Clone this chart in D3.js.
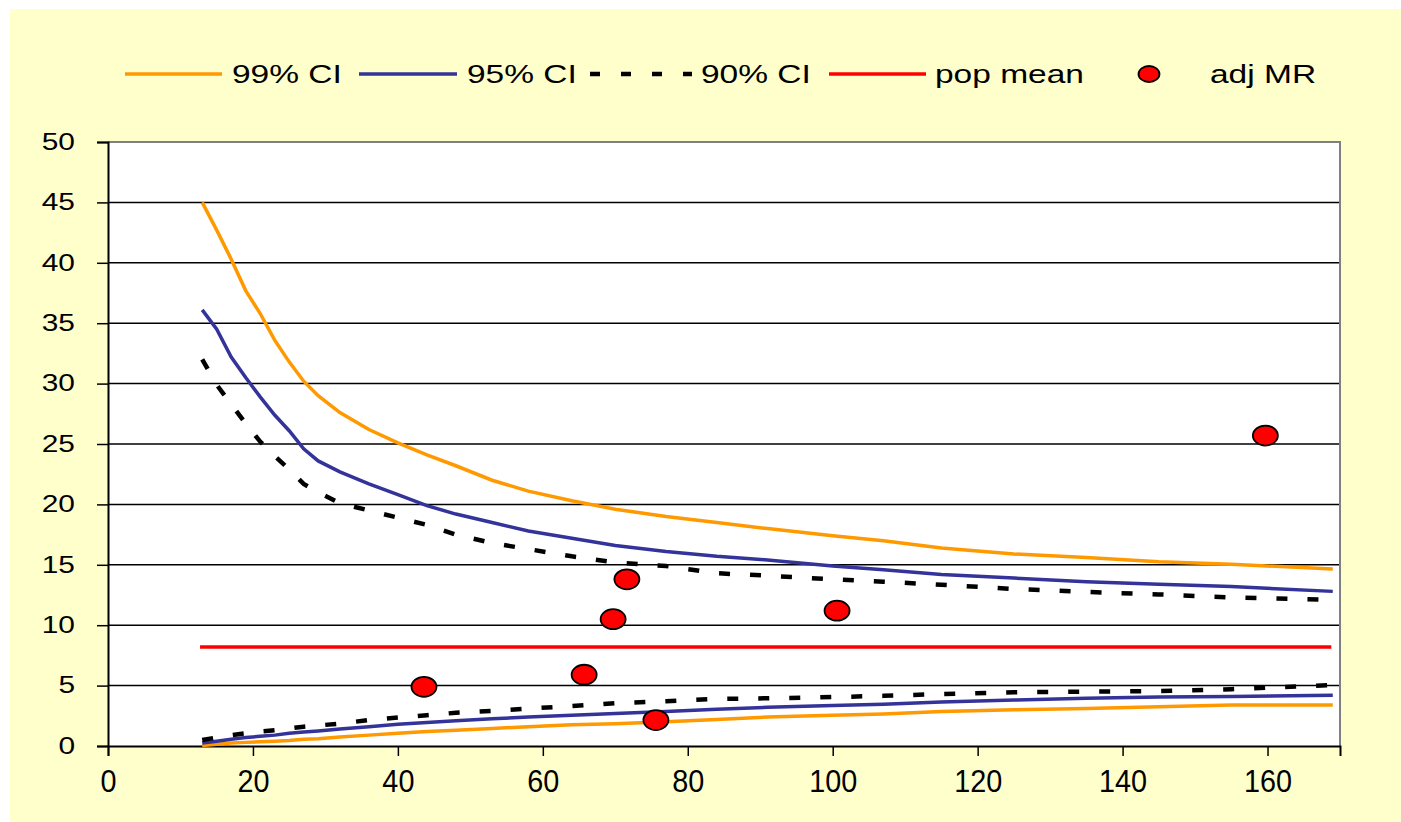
<!DOCTYPE html>
<html>
<head>
<meta charset="utf-8">
<script src="https://cdn.jsdelivr.net/npm/d3@7"></script>
<style>
  body { margin: 0; background: #ffffff; }
  text { font-family: "Liberation Sans", Arial, sans-serif; fill: #000; }
</style>
</head>
<body>
<svg id="chart" width="1401" height="822"></svg>
<script>
// sample sizes along the x axis
const sizes = [13, 15, 17, 19, 21, 23, 25, 27, 29, 32, 36, 40, 44, 48, 53, 58, 64, 70, 77, 84, 91, 100, 107, 115, 125, 135, 145, 155, 169];

// control limits (upper / lower) for each confidence level
const upper99 = [45.0, 42.7, 40.3, 37.7, 35.8, 33.6, 31.8, 30.2, 29.0, 27.6, 26.2, 25.1, 24.1, 23.2, 22.0, 21.1, 20.3, 19.6, 19.0, 18.5, 18.0, 17.4, 17.0, 16.4, 15.9, 15.6, 15.25, 15.05, 14.65];
const upper95 = [36.1, 34.5, 32.2, 30.5, 28.9, 27.4, 26.1, 24.6, 23.6, 22.7, 21.7, 20.8, 19.9, 19.2, 18.5, 17.8, 17.2, 16.6, 16.1, 15.7, 15.4, 14.9, 14.6, 14.2, 13.9, 13.6, 13.4, 13.2, 12.8];
const upper90 = [32.0, 29.9, 28.3, 26.7, 25.2, 24.0, 22.9, 21.7, 21.0, 20.1, 19.5, 18.9, 18.3, 17.5, 16.8, 16.3, 15.7, 15.2, 14.9, 14.3, 14.1, 13.8, 13.6, 13.35, 13.0, 12.75, 12.55, 12.3, 12.1];
const lower99 = [0.05, 0.15, 0.25, 0.3, 0.35, 0.4, 0.45, 0.55, 0.6, 0.75, 0.9, 1.05, 1.2, 1.3, 1.45, 1.6, 1.75, 1.85, 2.0, 2.2, 2.4, 2.55, 2.65, 2.85, 3.0, 3.1, 3.25, 3.4, 3.4];
const lower95 = [0.25, 0.4, 0.55, 0.7, 0.8, 0.9, 1.05, 1.15, 1.25, 1.4, 1.6, 1.8, 1.95, 2.1, 2.25, 2.4, 2.55, 2.7, 2.85, 3.05, 3.2, 3.35, 3.45, 3.65, 3.8, 3.95, 4.05, 4.1, 4.2];
const lower90 = [0.5, 0.7, 0.9, 1.05, 1.2, 1.3, 1.45, 1.6, 1.7, 1.85, 2.15, 2.35, 2.55, 2.75, 2.9, 3.1, 3.3, 3.55, 3.7, 3.9, 3.95, 4.05, 4.15, 4.3, 4.45, 4.5, 4.55, 4.7, 5.05];

// population mean and its x extent
const popMean = 8.2;
const popMeanRange = [12.7, 168.8];

// adjusted mortality rates (x = size, y = rate)
const adjX = [43.6, 65.7, 69.7, 71.6, 75.6, 100.6, 159.7];
const adjY = [4.9, 5.9, 10.5, 13.8, 2.15, 11.2, 25.7];

const xTicks = [0, 20, 40, 60, 80, 100, 120, 140, 160];
const yTicks = [0, 5, 10, 15, 20, 25, 30, 35, 40, 45, 50];

const legendLabels = ["99% CI", "95% CI", "90% CI", "pop mean", "adj MR"];

const svg = d3.select("#chart");

//background panel
svg.append("rect")
    .attr("x", 10).attr("y", 9)
    .attr("width", 1391).attr("height", 813)
    .attr("fill", "#ffffcc");

const plotLeft = 108, plotRight = 1340, plotTop = 142, plotBottom = 746;

const x = d3.scaleLinear().domain([0, 170]).range([plotLeft, plotRight]);
const y = d3.scaleLinear().domain([0, 50]).range([plotBottom, plotTop]);

//the source picture is stretched sideways, so text gets a horizontal scale
function stretchText(sel, sx) {
    sel.each(function() {
        const t = d3.select(this);
        const tx = +t.attr("x") || 0;
        const ty = +t.attr("y") || 0;
        t.attr("x", 0).attr("y", 0)
         .attr("transform", `translate(${tx},${ty}) scale(${sx},1)`);
    });
}

//plot area
svg.append("rect")
    .attr("x", plotLeft).attr("y", plotTop)
    .attr("width", plotRight - plotLeft).attr("height", plotBottom - plotTop)
    .attr("fill", "#ffffff");

//horizontal gridlines
svg.append("g")
    .selectAll("line")
    .data(yTicks.filter(d => d > 0 && d < 50))
    .join("line")
    .attr("x1", plotLeft).attr("x2", plotRight)
    .attr("y1", d => y(d)).attr("y2", d => y(d))
    .attr("stroke", "#000").attr("stroke-width", 1.5);

//gray border top and right
svg.append("path")
    .attr("d", `M${plotLeft},${plotTop}H${plotRight}V${plotBottom}`)
    .attr("fill", "none")
    .attr("stroke", "#808080").attr("stroke-width", 2);

//y axis
const yAxis = svg.append("g")
    .attr("transform", `translate(${plotLeft},0)`)
    .call(d3.axisLeft(y).tickValues(yTicks).tickSize(11).tickPadding(22));
yAxis.select(".domain").attr("stroke", "#000").attr("stroke-width", 2);
yAxis.selectAll(".tick line").attr("stroke", "#000").attr("stroke-width", 1.5);
yAxis.selectAll("text").attr("font-size", 23).attr("font-family", "Liberation Sans, Arial, sans-serif").attr("fill", "#000");
stretchText(yAxis.selectAll("text"), 1.3);

//x axis
const xAxis = svg.append("g")
    .attr("transform", `translate(0,${plotBottom})`)
    .call(d3.axisBottom(x).tickValues(xTicks).tickSize(10).tickPadding(13));
xAxis.select(".domain").attr("stroke", "#000").attr("stroke-width", 2);
xAxis.selectAll(".tick line").attr("stroke", "#000").attr("stroke-width", 1.5);
xAxis.selectAll("text").attr("font-size", 32).attr("font-family", "Liberation Sans, Arial, sans-serif").attr("fill", "#000");
stretchText(xAxis.selectAll("text"), 0.9);

const line = d3.line()
    .x((d, i) => x(sizes[i]))
    .y(d => y(d));

const series = [
    { data: upper99, color: "#ff9900", width: 3.5, dash: null },
    { data: lower99, color: "#ff9900", width: 3.5, dash: null },
    { data: upper95, color: "#333399", width: 3.5, dash: null },
    { data: lower95, color: "#333399", width: 3.5, dash: null },
    { data: upper90, color: "#000000", width: 4.5, dash: "11,20" },
    { data: lower90, color: "#000000", width: 4.5, dash: "11,20" }
];

svg.append("g")
    .selectAll("path")
    .data(series)
    .join("path")
    .attr("d", d => line(d.data))
    .attr("fill", "none")
    .attr("stroke", d => d.color)
    .attr("stroke-width", d => d.width)
    .attr("stroke-dasharray", d => d.dash);

//population mean
svg.append("line")
    .attr("x1", x(popMeanRange[0])).attr("x2", x(popMeanRange[1]))
    .attr("y1", y(popMean)).attr("y2", y(popMean))
    .attr("stroke", "#ff0000").attr("stroke-width", 3.5);

//adjusted MR markers
svg.append("g")
    .selectAll("ellipse")
    .data(adjX)
    .join("ellipse")
    .attr("cx", d => x(d))
    .attr("cy", (d, i) => y(adjY[i]))
    .attr("rx", 12.5).attr("ry", 10)
    .attr("fill", "#ff0000")
    .attr("stroke", "#000").attr("stroke-width", 1.8);

//legend
const legend = svg.append("g");
const legendY = 74;
const legendItems = [
    { x1: 125, x2: 222, tx: 232, color: "#ff9900", width: 3.5, dash: null },
    { x1: 359, x2: 457, tx: 467, color: "#333399", width: 3.5, dash: null },
    { x1: 590, x2: 692, tx: 701, color: "#000000", width: 4.5, dash: "10,21" },
    { x1: 829, x2: 926, tx: 935, color: "#ff0000", width: 3.5, dash: null },
    { marker: 1149, tx: 1210 }
];

legendItems.forEach((item, i) => {
    if (item.marker) {
        legend.append("ellipse")
            .attr("cx", item.marker).attr("cy", legendY)
            .attr("rx", 10.5).attr("ry", 8)
            .attr("fill", "#ff0000")
            .attr("stroke", "#000").attr("stroke-width", 1.8);
    } else {
        legend.append("line")
            .attr("x1", item.x1).attr("x2", item.x2)
            .attr("y1", legendY).attr("y2", legendY)
            .attr("stroke", item.color)
            .attr("stroke-width", item.width)
            .attr("stroke-dasharray", item.dash);
    }
    legend.append("text")
        .attr("x", item.tx).attr("y", legendY + 9)
        .attr("font-size", 25)
        .text(legendLabels[i]);
});
stretchText(legend.selectAll("text"), 1.34);
</script>
</body>
</html>
